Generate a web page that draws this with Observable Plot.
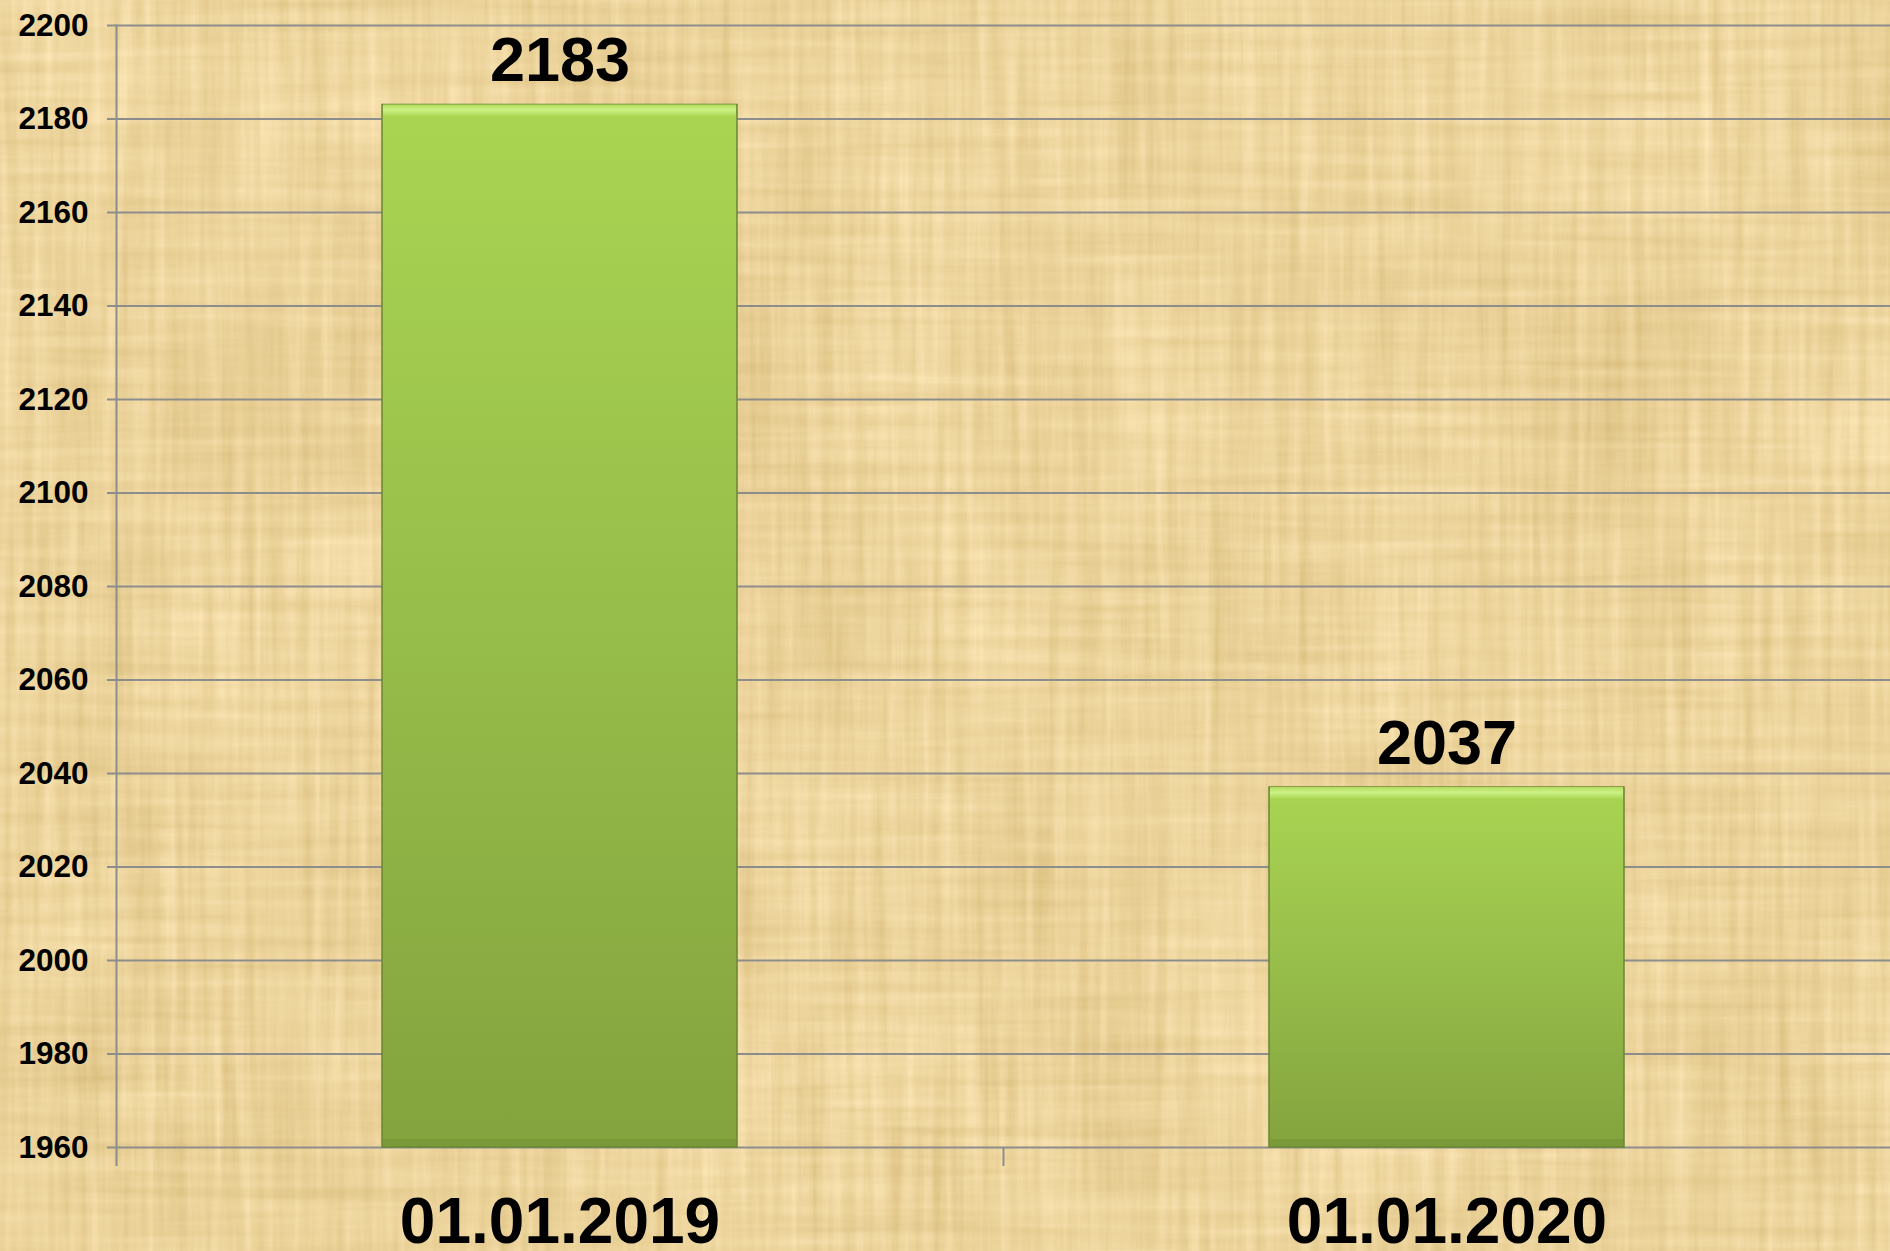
<!DOCTYPE html>
<html>
<head>
<meta charset="utf-8">
<script src="https://cdn.jsdelivr.net/npm/d3@7"></script>
<script src="https://cdn.jsdelivr.net/npm/@observablehq/plot@0.6"></script>
<style>
  html, body { margin: 0; padding: 0; background: #ead19b; overflow: hidden; }
  #chart svg { display: block; }
</style>
</head>
<body>
<div id="chart"></div>
<script>
// ---- data ----
const categories = ["01.01.2019", "01.01.2020"];
const values = [2183, 2037];
const yTicks = [1960, 1980, 2000, 2020, 2040, 2060, 2080, 2100, 2120, 2140, 2160, 2180, 2200];

const yMin = yTicks[0];
const yMax = yTicks[yTicks.length - 1];
const data = categories.map((c, i) => ({date: c, value: values[i]}));

const W = 1890, H = 1251;
const mL = 116, mR = 0, mT = 25, mB = 104;
const step = (W - mL - mR) / 2; // band step with paddingInner .6 / paddingOuter .3
const gridColor = "#8d8d8d";
const font = "'Liberation Sans', Arial, Helvetica, sans-serif";

const chart = Plot.plot({
  width: W,
  height: H,
  marginLeft: mL,
  marginRight: mR,
  marginTop: mT,
  marginBottom: mB,
  style: {background: "transparent", fontFamily: font, overflow: "visible"},
  x: {domain: categories, paddingInner: 0.6, paddingOuter: 0.3, label: null},
  y: {domain: [yMin, yMax], label: null},
  marks: [
    Plot.gridY(yTicks, {stroke: gridColor, strokeOpacity: 1, strokeWidth: 2}),
    Plot.axisY(yTicks, {
      tickSize: 9, tickPadding: 19, stroke: gridColor, strokeWidth: 2,
      tickFormat: d => String(d),
      fill: "black", fontSize: 31.5, fontWeight: "bold", label: null
    }),
    Plot.frame({anchor: "left", stroke: gridColor, strokeWidth: 2}),
    // category boundary ticks below the baseline
    Plot.ruleX(categories, {
      x: d => d, y1: () => yMin, y2: () => yMin,
      dx: -step / 2, insetBottom: -19, stroke: gridColor, strokeWidth: 2
    }),
    // bars
    Plot.barY(data, {
      x: "date", y1: () => yMin, y2: "value",
      fill: "url(#barGrad)", stroke: "#6a8632", strokeWidth: 1.5
    }),
    // top bevel highlight
    Plot.barY(data, {
      x: "date", y1: "value", y2: "value", insetBottom: -12,
      insetLeft: 1, insetRight: 1, fill: "url(#bevelGrad)"
    }),
    // bottom bevel shade
    Plot.barY(data, {
      x: "date", y1: () => yMin, y2: () => yMin, insetTop: -8,
      insetLeft: 1, insetRight: 1, fill: "#6f8d34", fillOpacity: 0.45
    }),
    // value labels
    Plot.text(data, {
      x: "date", y: "value", text: d => String(d.value),
      dy: -24, lineAnchor: "bottom", fontSize: 63, fontWeight: "bold", fill: "black"
    }),
    Plot.axisX({
      tickSize: 0, tickPadding: 50, fontSize: 64, fontWeight: "bold",
      fill: "black", label: null
    })
  ]
});

// ---- decorations: parchment texture + gradients ----
const svg = d3.select(chart);
svg.insert("rect", ":first-child")
  .attr("width", W).attr("height", H)
  .attr("filter", "url(#paper)");
const defs = svg.insert("defs", ":first-child");

const f = defs.append("filter")
  .attr("id", "paper")
  .attr("filterUnits", "userSpaceOnUse")
  .attr("x", 0).attr("y", 0).attr("width", W).attr("height", H)
  .attr("color-interpolation-filters", "sRGB");
f.append("feTurbulence").attr("type", "fractalNoise")
  .attr("baseFrequency", "0.09 0.004").attr("numOctaves", 3).attr("seed", 3).attr("result", "v");
f.append("feTurbulence").attr("type", "fractalNoise")
  .attr("baseFrequency", "0.004 0.08").attr("numOctaves", 3).attr("seed", 11).attr("result", "h");
f.append("feTurbulence").attr("type", "fractalNoise")
  .attr("baseFrequency", "0.006 0.004").attr("numOctaves", 2).attr("seed", 5).attr("result", "b");
f.append("feComposite").attr("in", "v").attr("in2", "h")
  .attr("operator", "arithmetic").attr("k2", 0.6).attr("k3", 0.4).attr("result", "vh");
f.append("feComposite").attr("in", "vh").attr("in2", "b")
  .attr("operator", "arithmetic").attr("k2", 0.75).attr("k3", 0.25).attr("result", "n");
f.append("feColorMatrix").attr("in", "n").attr("type", "matrix")
  .attr("values",
    "0.22 0 0 0 0.815 " +
    "0.26 0 0 0 0.700 " +
    "0.36 0 0 0 0.430 " +
    "0 0 0 0 1");

const g = defs.append("linearGradient")
  .attr("id", "barGrad").attr("x1", 0).attr("y1", 0).attr("x2", 0).attr("y2", 1);
g.append("stop").attr("offset", "0%").attr("stop-color", "#a9d552");
g.append("stop").attr("offset", "50%").attr("stop-color", "#97bd4a");
g.append("stop").attr("offset", "100%").attr("stop-color", "#83a33e");

const bg = defs.append("linearGradient")
  .attr("id", "bevelGrad").attr("x1", 0).attr("y1", 0).attr("x2", 0).attr("y2", 1);
bg.append("stop").attr("offset", "0%").attr("stop-color", "#b4dc5e");
bg.append("stop").attr("offset", "45%").attr("stop-color", "#ccf285");
bg.append("stop").attr("offset", "100%").attr("stop-color", "#aad553");

document.getElementById("chart").appendChild(chart);
</script>
</body>
</html>
